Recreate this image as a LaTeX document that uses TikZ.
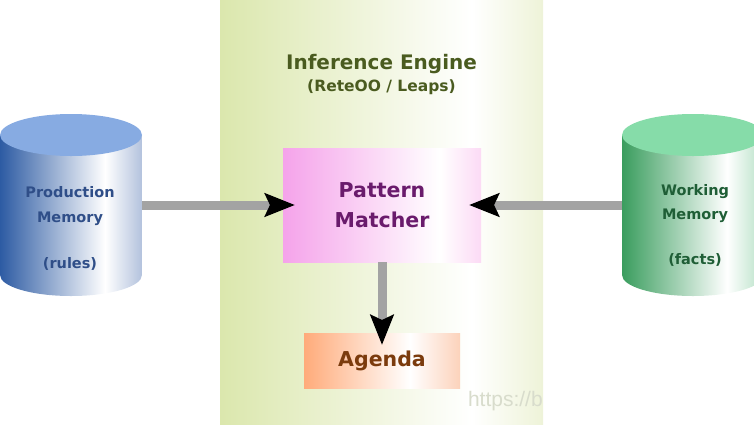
\documentclass[tikz,border=0pt]{standalone}
\usepackage{fontspec}
\setmainfont{DejaVu Sans}
\newfontfamily\wmfont{Liberation Sans}
\usetikzlibrary{arrows.meta}
\definecolor{engA}{HTML}{DBE7AD}
\definecolor{engB}{HTML}{EEF3D8}
\definecolor{pmA}{HTML}{F5A3EA}
\definecolor{pmB}{HTML}{FCDAF5}
\definecolor{agA}{HTML}{FFAB7A}
\definecolor{agB}{HTML}{FCD2BB}
\definecolor{bcA}{HTML}{2D5BA3}
\definecolor{bcB}{HTML}{B3C2DD}
\definecolor{bcTop}{HTML}{87ABE2}
\definecolor{gcA}{HTML}{3A9D5E}
\definecolor{gcB}{HTML}{B5E0C5}
\definecolor{gcTop}{HTML}{86DCA9}
\definecolor{titleC}{HTML}{4A5B1F}
\definecolor{pmText}{HTML}{6A1B6C}
\definecolor{agText}{HTML}{7B3B0D}
\definecolor{prodText}{HTML}{2F4E88}
\definecolor{workText}{HTML}{1F5E36}
\definecolor{shaftC}{HTML}{A3A3A3}
\definecolor{wmC}{HTML}{D8DCCC}
\pgfdeclarehorizontalshading{engineshade}{100bp}{color(0bp)=(engA); color(25bp)=(engA); color(64bp)=(white); color(75bp)=(engB); color(100bp)=(engB)}
\pgfdeclarehorizontalshading{pmshade}{100bp}{color(0bp)=(pmA); color(25bp)=(pmA); color(64.5bp)=(white); color(75bp)=(pmB); color(100bp)=(pmB)}
\pgfdeclarehorizontalshading{agshade}{100bp}{color(0bp)=(agA); color(25bp)=(agA); color(59bp)=(white); color(75bp)=(agB); color(100bp)=(agB)}
\pgfdeclarehorizontalshading{bluecyl}{100bp}{color(0bp)=(bcA); color(25bp)=(bcA); color(62bp)=(white); color(75bp)=(bcB); color(100bp)=(bcB)}
\pgfdeclarehorizontalshading{greencyl}{100bp}{color(0bp)=(gcA); color(25bp)=(gcA); color(62bp)=(white); color(75bp)=(gcB); color(100bp)=(gcB)}
\begin{document}
\begin{tikzpicture}[x=1pt,y=-1pt,
  every node/.style={inner sep=0pt, outer sep=0pt},
  boxnode/.style={rectangle, shade, font=\bfseries\fontsize{20.5}{30}\selectfont, align=center},
  cyltext/.style={anchor=base, font=\bfseries\fontsize{14.5}{17}\selectfont},
  conn/.style={draw=shaftC, line width=9pt, shorten >=-12pt,
    -{Stealth[length=30pt,width=23pt,inset=5pt,color=black]}}]
\useasboundingbox (0,0) rectangle (754,424);
% inference engine panel
\node[rectangle, shade, shading=engineshade, minimum width=323pt, minimum height=424pt] (engine) at (381.5,212) {};
\node[anchor=base, text=titleC, font=\bfseries\fontsize{20}{24}\selectfont] (title) at (381.5,69) {Inference Engine};
\node[anchor=base, text=titleC, font=\bfseries\fontsize{15.5}{18}\selectfont] (subtitle) at (381.5,91) {(ReteOO / Leaps)};
\node[anchor=base west, text=wmC, font=\wmfont\fontsize{21}{24}\selectfont] (wm) at (468,406) {https://b};
% boxes
\node[boxnode, shading=pmshade, minimum width=198pt, minimum height=114pt, text=pmText] (pm) at (382,205) {Pattern\\Matcher};
\node[boxnode, shading=agshade, minimum width=156pt, minimum height=55pt, text=agText] (ag) at (382,360.5) {Agenda};
% left cylinder
\node[rectangle, minimum width=142pt, minimum height=140pt] (prodcyl) at (71,205) {};
\shade[shading=bluecyl] (prodcyl.north west) -- (prodcyl.south west)
  arc[start angle=180, end angle=360, x radius=71pt, y radius=21pt] -- (prodcyl.north east) -- cycle;
\fill[bcTop] (prodcyl.north) ellipse [x radius=71pt, y radius=21pt];
\node[cyltext, text=prodText] (prod1) at (70,197) {Production};
\node[cyltext, text=prodText] (prod2) at (70,222) {Memory};
\node[cyltext, text=prodText] (prod3) at (70,268) {(rules)};
% right cylinder
\node[rectangle, minimum width=142pt, minimum height=140pt] (workcyl) at (693,205) {};
\shade[shading=greencyl] (workcyl.north west) -- (workcyl.south west)
  arc[start angle=180, end angle=360, x radius=71pt, y radius=21pt] -- (workcyl.north east) -- cycle;
\fill[gcTop] (workcyl.north) ellipse [x radius=71pt, y radius=21pt];
\node[cyltext, text=workText] (work1) at (695,195) {Working};
\node[cyltext, text=workText] (work2) at (695,219) {Memory};
\node[cyltext, text=workText] (work3) at (695,264) {(facts)};
% connectors
\draw[conn] (prodcyl.east) -- (pm.west);
\draw[conn] (workcyl.west) -- (pm.east);
\draw[conn] (pm.south) -- (ag.north);
\end{tikzpicture}
\end{document}
